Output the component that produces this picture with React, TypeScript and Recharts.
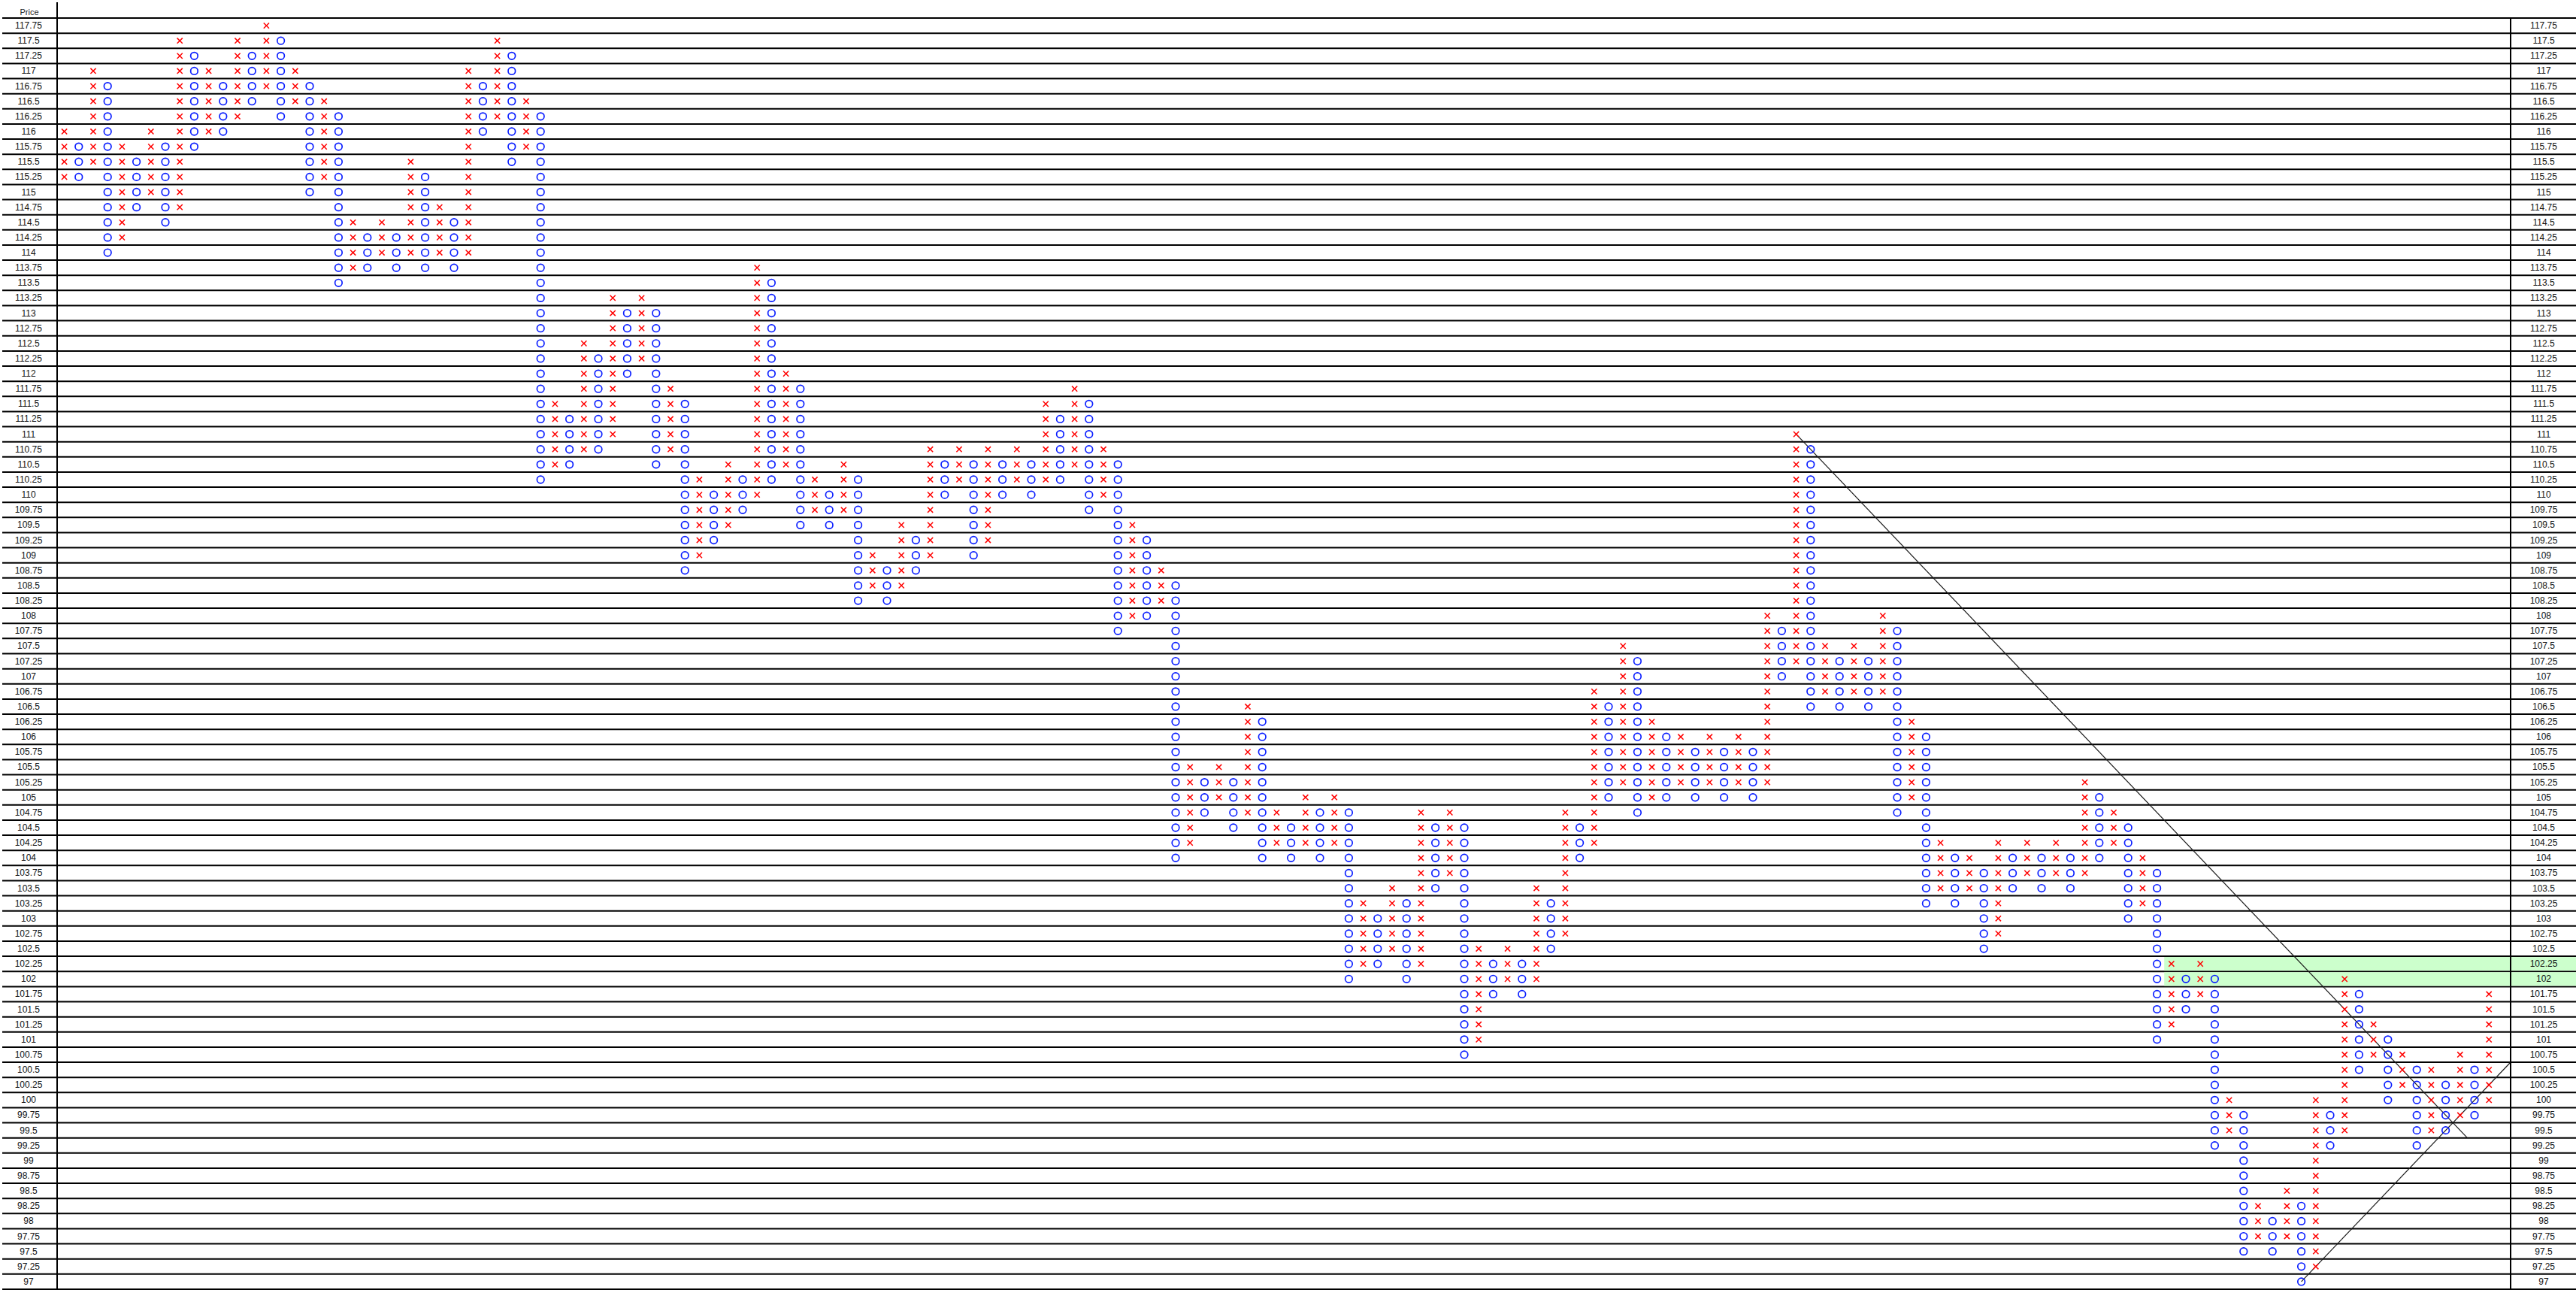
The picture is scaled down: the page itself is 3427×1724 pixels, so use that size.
import React from "react";
import {
  ScatterChart,
  Scatter,
  XAxis,
  YAxis,
  CartesianGrid,
  ReferenceArea,
  ReferenceLine,
} from "recharts";

const W = 3427;
const H = 1724;
const LEFT_W = 76;
const RIGHT_W = 87;
const TOP = 24;
const BOTTOM = 9;
const BOX = 0.25;

const priceLabels = [
  117.75, 117.5, 117.25, 117, 116.75, 116.5, 116.25, 116, 115.75, 115.5, 115.25, 115,
  114.75, 114.5, 114.25, 114, 113.75, 113.5, 113.25, 113, 112.75, 112.5, 112.25, 112,
  111.75, 111.5, 111.25, 111, 110.75, 110.5, 110.25, 110, 109.75, 109.5, 109.25, 109,
  108.75, 108.5, 108.25, 108, 107.75, 107.5, 107.25, 107, 106.75, 106.5, 106.25, 106,
  105.75, 105.5, 105.25, 105, 104.75, 104.5, 104.25, 104, 103.75, 103.5, 103.25, 103,
  102.75, 102.5, 102.25, 102, 101.75, 101.5, 101.25, 101, 100.75, 100.5, 100.25, 100,
  99.75, 99.5, 99.25, 99, 98.75, 98.5, 98.25, 98, 97.75, 97.5, 97.25, 97,
];

// one letter per column, X = rising, O = falling
const columnKinds =
  "XOXOXOXOXOXOXOXOXOXO" +
  "XOXOXOXOXOXOXOXOXOXO" +
  "XOXOXOXOXOXOXOXOXOXO" +
  "XOXOXOXOXOXOXOXOXOXO" +
  "XOXOXOXOXOXOXOXOXOXO" +
  "XOXOXOXOXOXOXOXOXOXO" +
  "XOXOXOXOXOXOXOXOXOXO" +
  "XOXOXOXOXOXOXOXOXOXO" +
  "XOXOXOXOX";

const columnHighs = [
  116, 115.75, 117, 116.75, 115.75, 115.5, 116, 115.75, 117.5, 117.25,
  117, 116.75, 117.5, 117.25, 117.75, 117.5, 117, 116.75, 116.5, 116.25,
  114.5, 114.25, 114.5, 114.25, 115.5, 115.25, 114.75, 114.5, 117, 116.75,
  117.5, 117.25, 116.5, 116.25, 111.5, 111.25, 112.5, 112.25, 113.25, 113,
  113.25, 113, 111.75, 111.5, 110.25, 110, 110.5, 110.25, 113.75, 113.5,
  112, 111.75, 110.25, 110, 110.5, 110.25, 109, 108.75, 109.5, 109.25,
  110.75, 110.5, 110.75, 110.5, 110.75, 110.5, 110.75, 110.5, 111.5, 111.25,
  111.75, 111.5, 110.75, 110.5, 109.5, 109.25, 108.75, 108.5, 105.5, 105.25,
  105.5, 105.25, 106.5, 106.25, 104.75, 104.5, 105, 104.75, 105, 104.75,
  103.25, 103, 103.5, 103.25, 104.75, 104.5, 104.75, 104.5, 102.5, 102.25,
  102.5, 102.25, 103.5, 103.25, 104.75, 104.5, 106.75, 106.5, 107.5, 107.25,
  106.25, 106, 106, 105.75, 106, 105.75, 106, 105.75, 108, 107.75,
  111, 110.75, 107.5, 107.25, 107.5, 107.25, 108, 107.75, 106.25, 106,
  104.25, 104, 104, 103.75, 104.25, 104, 104.25, 104, 104.25, 104,
  105.25, 105, 104.75, 104.5, 104, 103.75, 102.25, 102, 102.25, 102,
  100, 99.75, 98.25, 98, 98.5, 98.25, 100, 99.75, 102, 101.75,
  101.25, 101, 100.75, 100.5, 100.5, 100.25, 100.75, 100.5, 101.75,
];

const columnLows = [
  115.25, 115.25, 115.5, 114, 114.25, 114.75, 115, 114.5, 114.75, 115.75,
  116, 116, 116.25, 116.5, 116.75, 116.25, 116.5, 115, 115.25, 113.5,
  113.75, 113.75, 114, 113.75, 114, 113.75, 114, 113.75, 114, 116,
  116.25, 115.5, 115.75, 110.25, 110.5, 110.5, 110.75, 110.75, 111, 112,
  112.25, 110.5, 110.75, 108.75, 109, 109.25, 109.5, 109.75, 110, 110.25,
  110.5, 109.5, 109.75, 109.5, 109.75, 108.25, 108.5, 108.25, 108.5, 108.75,
  109, 110, 110.25, 109, 109.25, 110, 110.25, 110, 110.25, 110.25,
  110.5, 109.75, 110, 107.75, 108, 108, 108.25, 104, 104.25, 104.75,
  105, 104.5, 104.75, 104, 104.25, 104, 104.25, 104, 104.25, 102,
  102.25, 102.25, 102.5, 102, 102.25, 103.5, 103.75, 100.75, 101, 101.75,
  102, 101.75, 102, 102.5, 102.75, 104, 104.25, 105, 105.25, 104.75,
  105, 105, 105.25, 105, 105.25, 105, 105.25, 105, 105.25, 107,
  107.25, 106.5, 106.75, 106.5, 106.75, 106.5, 106.75, 104.75, 105, 103.25,
  103.5, 103.25, 103.5, 102.5, 102.75, 103.5, 103.75, 103.5, 103.75, 103.5,
  103.75, 104, 104.25, 103, 103.25, 101, 101.25, 101.5, 101.75, 99.25,
  99.5, 97.5, 97.75, 97.5, 97.75, 97, 97.25, 99.25, 99.5, 100.5,
  100.75, 100, 100.25, 99.25, 99.5, 99.5, 99.75, 99.75, 100,
];

// highlighted price band (green), starting at a column
const bandPrices = [102.25, 102];
const bandFromColumn = 146;

// trend lines: [column, price] -> [column, price]
const trendLines = [
  { from: { x: 120, y: 111 }, to: { x: 166.5, y: 99.375 } },
  { from: { x: 155, y: 97 }, to: { x: 169.5, y: 100.625 } },
];

const SLOTS = 170;
const priceMax = priceLabels[0] + BOX / 2;
const priceMin = priceLabels[priceLabels.length - 1] - BOX / 2;
const rowH = (H - TOP - BOTTOM) / priceLabels.length;
const perPx = BOX / rowH;
const rowBounds = [...priceLabels.map((p) => p + BOX / 2), priceMin];

const xBoxes: { col: number; price: number }[] = [];
const oBoxes: { col: number; price: number }[] = [];
columnHighs.forEach((hi, col) => {
  const lo = columnLows[col];
  const n = Math.round((hi - lo) / BOX);
  for (let i = 0; i <= n; i++) {
    const pt = { col, price: lo + i * BOX };
    if (columnKinds[col] === "X") xBoxes.push(pt);
    else oBoxes.push(pt);
  }
});

const XMark = (props: any) => {
  const { cx, cy } = props;
  const s = 3.6;
  return (
    <g>
      <line x1={cx - s} y1={cy - s} x2={cx + s} y2={cy + s} stroke="#ff0000" strokeWidth={1.5} />
      <line x1={cx - s} y1={cy + s} x2={cx + s} y2={cy - s} stroke="#ff0000" strokeWidth={1.5} />
    </g>
  );
};

const OMark = (props: any) => {
  const { cx, cy } = props;
  return <circle cx={cx} cy={cy} r={4.8} fill="none" stroke="#0a1eff" strokeWidth={1.7} />;
};

const NoMark = () => <g />;

const LeftTick = (props: any) => {
  const { y, payload } = props;
  return (
    <text
      x={LEFT_W / 2}
      y={y}
      textAnchor="middle"
      dominantBaseline="central"
      fontSize={12}
      fontFamily="Liberation Sans, Arial, sans-serif"
      fill="#111"
    >
      {payload.value}
    </text>
  );
};

const RightTick = (props: any) => {
  const { y, payload } = props;
  const hot = bandPrices.includes(payload.value);
  return (
    <g>
      {hot && (
        <rect x={W - RIGHT_W + 1} y={y - rowH / 2 + 1} width={RIGHT_W} height={rowH - 2} fill="#ccffcc" />
      )}
      <text
        x={W - RIGHT_W + 44}
        y={y}
        textAnchor="middle"
        dominantBaseline="central"
        fontSize={12}
        fontFamily="Liberation Sans, Arial, sans-serif"
        fill="#111"
      >
        {payload.value}
      </text>
    </g>
  );
};

export default function App() {
  return (
    <div style={{ position: "absolute", left: 0, top: 0, width: W, height: H, background: "#fff" }}>
      <ScatterChart width={W} height={H} margin={{ top: TOP, right: 0, bottom: BOTTOM, left: 0 }}>
        {bandPrices.map((p) => (
          <ReferenceArea
            key={p}
            yAxisId="left"
            x1={bandFromColumn - 0.5}
            x2={SLOTS - 0.5}
            y1={p - BOX / 2 + perPx}
            y2={p + BOX / 2 - perPx}
            fill="#ccffcc"
            fillOpacity={1}
            stroke="none"
          />
        ))}
        <CartesianGrid
          yAxisId="left"
          vertical={false}
          horizontalValues={rowBounds}
          x={3}
          width={W - 3}
          stroke="#000"
          strokeWidth={2}
        />
        <XAxis type="number" dataKey="col" domain={[-0.5, SLOTS - 0.5]} hide />
        <YAxis
          yAxisId="left"
          type="number"
          dataKey="price"
          domain={[priceMin, priceMax]}
          ticks={priceLabels}
          interval={0}
          width={LEFT_W}
          tick={<LeftTick />}
          tickLine={false}
          axisLine={{ stroke: "#000", strokeWidth: 2 }}
        />
        <YAxis
          yAxisId="right"
          orientation="right"
          type="number"
          dataKey="price"
          domain={[priceMin, priceMax]}
          ticks={priceLabels}
          interval={0}
          width={RIGHT_W}
          tick={<RightTick />}
          tickLine={false}
          axisLine={{ stroke: "#000", strokeWidth: 2 }}
        />
        <Scatter yAxisId="right" data={oBoxes} shape={NoMark} isAnimationActive={false} />
        <Scatter yAxisId="left" data={xBoxes} shape={XMark} isAnimationActive={false} />
        <Scatter yAxisId="left" data={oBoxes} shape={OMark} isAnimationActive={false} />
        {trendLines.map((t, i) => (
          <ReferenceLine
            key={i}
            yAxisId="left"
            segment={[t.from, t.to]}
            stroke="#1a1a1a"
            strokeWidth={1.2}
            ifOverflow="visible"
          />
        ))}
      </ScatterChart>
      <div
        style={{
          position: "absolute",
          left: 3,
          top: 3,
          width: LEFT_W - 4,
          height: TOP - 3,
          borderRight: "2px solid #000",
          fontFamily: "Liberation Sans, Arial, sans-serif",
          fontSize: 11,
          color: "#222",
          textAlign: "center",
          lineHeight: "26px",
        }}
      >
        Price
      </div>
    </div>
  );
}
